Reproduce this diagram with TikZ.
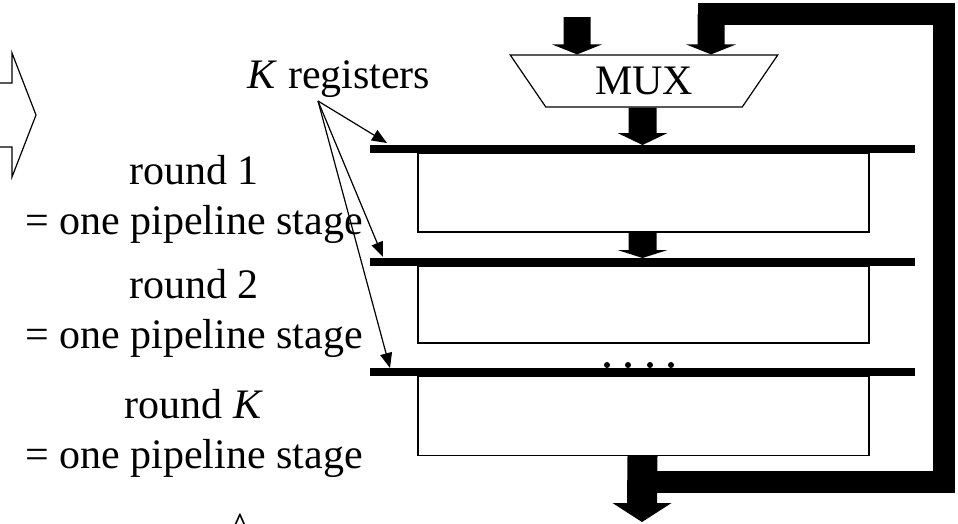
\documentclass[tikz,border=0pt]{standalone}
\usepackage{fontspec}
\setmainfont{Liberation Serif}
\usetikzlibrary{shapes.geometric,arrows.meta,calc,positioning}

\begin{document}
\begin{tikzpicture}[
    x=1pt, y=-1pt,
    font=\fontsize{42}{50}\selectfont,
    thin/.style={line width=1.2pt},
    stagebox/.style={
        draw,
        line width=1.2pt,
        minimum width=451pt,
        minimum height=79pt,
        inner sep=0pt
    },
    regbar/.style={
        fill=black,
        minimum width=545pt,
        minimum height=8pt,
        inner sep=0pt,
        outer sep=0pt
    },
    muxbox/.style={
        draw,
        line width=1.2pt,
        trapezium,
        shape border rotate=180,
        trapezium angle=60,
        trapezium stretches=true,
        minimum width=268pt,
        minimum height=52pt,
        inner sep=2pt
    },
    pointer/.style={
        line width=1.2pt,
        -{Triangle[length=15pt,width=12pt]}
    },
    feedback/.style={
        line width=22pt,
        line join=miter
    },
    fatarrow/.style n args={3}{
        to path={
            ($(\tikztostart)+(-#1,0)$) -- ($(\tikztostart)+(#1,0)$)
            -- ($(\tikztotarget)+(#1,-#3)$) -- ($(\tikztotarget)+(#2,-#3)$)
            -- (\tikztotarget) -- ($(\tikztotarget)+(-#2,-#3)$)
            -- ($(\tikztotarget)+(-#1,-#3)$) -- cycle
        }
    }
]
\useasboundingbox (0,0) rectangle (958,523);

% Big arrow at the left (cut by the edge)
\draw[thin] (0,83) -- (12,83) -- (12,53) -- (36,115) -- (12,177) -- (12,147) -- (0,147);

% Stages
\node[stagebox] (stage1) at (643.5,192.5) {};
\node[stagebox, minimum height=77pt] (stage2) at (643.5,304.5) {};
\node[stagebox] (stage3) at (643.5,416) {};

% Register bars
\node[regbar] (reg1) at (642.5,149) {};
\node[regbar] (reg2) at (642.5,262) {};
\node[regbar] (reg3) at (642.5,372) {};

% Multiplexer
\node[muxbox] (mux) at (644,81) {MUX};

% Inputs to the multiplexer
\coordinate (in1) at (577,17);
\coordinate (fbin) at (711,14);
\coordinate (in1tip) at (in1 |- mux.north);
\coordinate (fbtip) at (fbin |- mux.north);
\fill (in1) to[fatarrow={13.5}{25}{10}] (in1tip);
\fill (fbin) to[fatarrow={13.5}{25}{10}] (fbtip);

% Data path
\coordinate (muxout) at (mux.south -| reg1.north);
\fill (muxout) to[fatarrow={14}{25}{12}] (reg1.north);
\coordinate (s1out) at (stage1.south -| reg2.north);
\fill (s1out) to[fatarrow={14}{25}{8}] (reg2.north);
\coordinate (s3out) at (stage3.south -| reg3.north);
\coordinate (out) at (642,522);
\fill (s3out) to[fatarrow={15}{29.5}{19}] (out);

% Feedback loop
\coordinate (fbstart) at (642,482);
\coordinate (fbright) at (944,14);
\draw[feedback] (fbstart) -| (fbright) -- ($(fbin)+(-13.5,0)$);

% Dots
\foreach \dx in {607,628,650,671}
    \fill (\dx,365) circle (3);

% Labels
\node[anchor=base] (kreg) at (339,88) {\textit{K} registers};
\coordinate (kfan) at (318,101);
\draw[pointer] (kfan) -- ($(reg1.north west)+(17,-2)$);
\draw[pointer] (kfan) -- ($(reg2.north west)+(13,-1)$);
\draw[pointer] (kfan) -- ($(reg3.north west)+(20,0)$);

\node[align=center] (round1) at (194,199) {round 1\\= one pipeline stage};
\node[align=center] (round2) at (194,313) {round 2\\= one pipeline stage};
\node[align=center] (roundK) at (194,433) {round \textit{K}\\= one pipeline stage};

\node (hat) at (240,528) {\^{}};
\end{tikzpicture}
\end{document}
